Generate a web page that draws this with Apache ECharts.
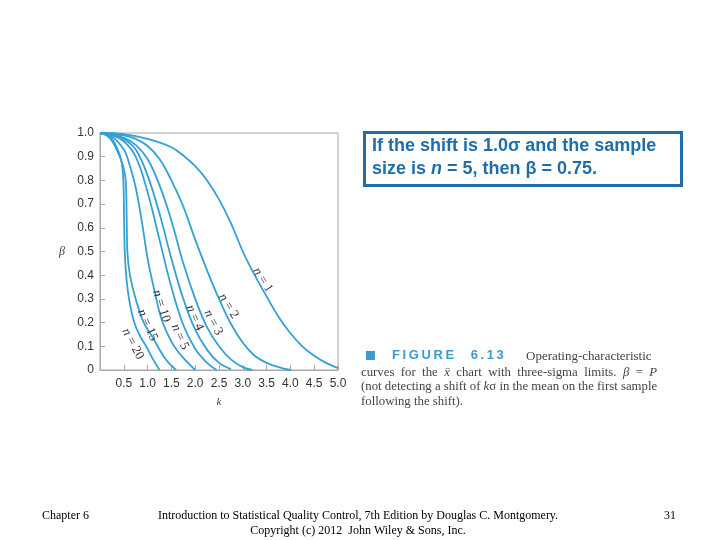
<!DOCTYPE html>
<html>
<head>
<meta charset="utf-8">
<script src="https://cdn.jsdelivr.net/npm/echarts@6/dist/echarts.min.js"></script>
<style>
html, body { margin: 0; background: #fff; }
#main { width: 720px; height: 540px; }
</style>
</head>
<body>
<div id="main"></div>
<script>
// OC curves of the x-bar chart (3-sigma limits), [k, beta]
var xTickLabels = ['', '0.5', '1.0', '1.5', '2.0', '2.5', '3.0', '3.5', '4.0', '4.5', '5.0'];
var yTickLabels = ['0', '0.1', '0.2', '0.3', '0.4', '0.5', '0.6', '0.7', '0.8', '0.9', '1.0'];
var sampleSizes = [1, 2, 3, 4, 5, 10, 15, 20];

var ocN1 = [[0, 1], [0.5, 0.995], [1.0, 0.975], [1.5, 0.94], [1.75, 0.905], [2.0, 0.86], [2.25, 0.8],
  [2.5, 0.72], [2.75, 0.62], [3.0, 0.5], [3.25, 0.4], [3.5, 0.31], [3.75, 0.225], [4.0, 0.155],
  [4.25, 0.1], [4.5, 0.06], [4.75, 0.03], [5.0, 0.008]];
var ocN2 = [[0, 1], [0.5, 0.99], [0.75, 0.975], [1.0, 0.945], [1.25, 0.89], [1.5, 0.8], [1.75, 0.69],
  [2.0, 0.55], [2.25, 0.42], [2.5, 0.3], [2.75, 0.195], [3.0, 0.115], [3.25, 0.06], [3.5, 0.03],
  [3.75, 0.012], [4.0, 0.0]];
var ocN3 = [[0, 1], [0.25, 0.995], [0.5, 0.98], [0.75, 0.95], [1.0, 0.89], [1.25, 0.78], [1.5, 0.63],
  [1.75, 0.45], [2.0, 0.3], [2.25, 0.18], [2.5, 0.1], [2.75, 0.045], [3.0, 0.012], [3.2, 0.0]];
var ocN4 = [[0, 1], [0.25, 0.993], [0.5, 0.975], [0.75, 0.93], [1.0, 0.82], [1.25, 0.66], [1.5, 0.47],
  [1.75, 0.3], [2.0, 0.17], [2.25, 0.085], [2.5, 0.03], [2.75, 0.004]];
var ocN5 = [[0, 1], [0.25, 0.99], [0.5, 0.965], [0.75, 0.9], [1.0, 0.75], [1.25, 0.55], [1.5, 0.35],
  [1.75, 0.19], [2.0, 0.09], [2.25, 0.03], [2.45, 0.0]];
var ocN10 = [[0, 1], [0.25, 0.985], [0.5, 0.93], [0.6, 0.88], [0.75, 0.77], [0.9, 0.6], [1.0, 0.47],
  [1.15, 0.33], [1.3, 0.21], [1.5, 0.12], [1.65, 0.075], [1.85, 0.03], [2.0, 0.0]];
var ocN15 = [[0, 1], [0.2, 0.98], [0.35, 0.93], [0.47, 0.87], [0.54, 0.8], [0.56, 0.65], [0.575, 0.5],
  [0.63, 0.4], [0.75, 0.3], [0.92, 0.2], [1.1, 0.14], [1.24, 0.09], [1.4, 0.04], [1.6, 0.0]];
var ocN20 = [[0, 1], [0.2, 0.985], [0.35, 0.94], [0.45, 0.88], [0.49, 0.8], [0.505, 0.65], [0.52, 0.5],
  [0.55, 0.4], [0.61, 0.3], [0.72, 0.2], [0.85, 0.14], [0.97, 0.1], [1.1, 0.05], [1.25, 0.0]];

var curves = [ocN1, ocN2, ocN3, ocN4, ocN5, ocN10, ocN15, ocN20];

// where each "n = .." label sits (data coords) and its slant
var labelAt = [[3.42, 0.38], [2.7, 0.27], [2.38, 0.2], [1.99, 0.22], [1.68, 0.14], [1.29, 0.27], [1.0, 0.19], [0.69, 0.11]];
var labelRot = [-58, -58, -62, -66, -66, -72, -66, -62];

var curveColor = '#33a1d5';
var axisGray = '#a8a8a8';
var serif = '"Liberation Serif", "Times New Roman", serif';
var sans = '"Liberation Sans", Arial, sans-serif';
var en = '\u2002';

var myChart = echarts.init(document.getElementById('main'), null, { renderer: 'canvas' });

var series = curves.map(function (pts, i) {
  return {
    name: 'n = ' + sampleSizes[i],
    type: 'line',
    data: pts,
    showSymbol: false,
    smooth: 0.4,
    lineStyle: { color: curveColor, width: 1.8 },
    silent: true,
    markPoint: {
      symbol: 'circle',
      symbolSize: 0,
      silent: true,
      data: [{ coord: labelAt[i] }],
      label: {
        show: true,
        position: 'inside',
        rotate: labelRot[i],
        formatter: '{i|n} = ' + sampleSizes[i],
        fontFamily: serif,
        fontSize: 13,
        color: '#333',
        rich: { i: { fontStyle: 'italic', fontFamily: serif, fontSize: 13, color: '#333' } }
      }
    }
  };
});

var option = {
  animation: false,
  grid: { left: 100, top: 133, width: 238, height: 237, show: true, borderColor: axisGray, borderWidth: 1 },
  xAxis: {
    type: 'value', min: 0, max: 5, interval: 0.5,
    name: 'k', nameLocation: 'middle', nameGap: 27,
    nameTextStyle: { fontFamily: serif, fontStyle: 'italic', fontSize: 11, color: '#444' },
    axisLine: { lineStyle: { color: axisGray } },
    axisTick: { inside: true, length: 5, lineStyle: { color: axisGray } },
    splitLine: { show: false },
    axisLabel: {
      margin: 8, fontFamily: sans, fontSize: 12, color: '#333',
      formatter: function (v) { return xTickLabels[Math.round(v / 0.5)]; }
    }
  },
  yAxis: {
    type: 'value', min: 0, max: 1, interval: 0.1,
    name: 'β', nameLocation: 'middle', nameGap: 35, nameRotate: 0,
    nameTextStyle: { fontFamily: serif, fontStyle: 'italic', fontSize: 12, color: '#444' },
    axisLine: { show: true, lineStyle: { color: axisGray } },
    axisTick: { show: true, inside: true, length: 5, lineStyle: { color: axisGray } },
    splitLine: { show: false },
    axisLabel: {
      margin: 6, fontFamily: sans, fontSize: 12, color: '#333',
      formatter: function (v) { return yTickLabels[Math.round(v * 10)]; }
    }
  },
  series: series,
  graphic: [
    // note box
    { type: 'rect', left: 363, top: 131, shape: { width: 317, height: 53 },
      style: { fill: '#fff', stroke: '#1f6ea9', lineWidth: 3 } },
    { type: 'text', left: 372, top: 137, style: {
        text: 'If the shift is 1.0σ and the sample', fill: '#1f6ea9',
        font: 'bold 18px ' + sans } },
    { type: 'text', left: 372, top: 160, style: {
        text: '{a|size is }{b|n}{a| = 5, then β = 0.75.}',
        rich: {
          a: { fill: '#1f6ea9', font: 'bold 18px ' + sans },
          b: { fill: '#1f6ea9', font: 'italic bold 18px ' + sans }
        } } },
    // figure caption
    { type: 'rect', left: 366, top: 351, shape: { width: 9, height: 9 }, style: { fill: '#3a9bd2' } },
    { type: 'text', left: 392, top: 349, style: {
        text: 'F\u2009I\u2009G\u2009U\u2009R\u2009E\u2003 6\u2009.\u20091\u20093', fill: '#3a9bd2',
        font: 'bold 13px ' + sans } },
    { type: 'text', left: 526, top: 350, style: {
        text: 'Operating-characteristic', fill: '#444', font: '13px ' + serif } },
    { type: 'text', left: 361, top: 366, style: {
        text: '{a|curves' + en + 'for' + en + 'the' + en + '}{i|x\u0304}{a|' + en + 'chart' + en + 'with' + en +
          'three-sigma' + en + 'limits.' + en + '}{i|β}{a|' + en + '=' + en + '}{i|P}',
        rich: {
          a: { fill: '#444', font: '12.8px ' + serif },
          i: { fill: '#444', font: 'italic 12.8px ' + serif }
        } } },
    { type: 'text', left: 361, top: 380, style: {
        text: '{a|(not detecting a shift of }{i|k}{a|σ in the mean on the first sample}',
        rich: {
          a: { fill: '#444', font: '12.8px ' + serif },
          i: { fill: '#444', font: 'italic 12.8px ' + serif }
        } } },
    { type: 'text', left: 361, top: 395, style: {
        text: 'following the shift).', fill: '#444', font: '12.8px ' + serif } },
    // footer
    { type: 'text', x: 42, y: 510, style: { text: 'Chapter 6', fill: '#000', font: '12px ' + serif } },
    { type: 'text', x: 358, y: 510, style: {
        text: 'Introduction to Statistical Quality Control, 7th Edition by Douglas C. Montgomery.',
        fill: '#000', font: '12px ' + serif, align: 'center' } },
    { type: 'text', x: 358, y: 525, style: {
        text: 'Copyright (c) 2012  John Wiley & Sons, Inc.',
        fill: '#000', font: '12px ' + serif, align: 'center' } },
    { type: 'text', x: 664, y: 510, style: { text: '31', fill: '#000', font: '12px ' + serif } }
  ]
};

myChart.setOption(option);
</script>
</body>
</html>
